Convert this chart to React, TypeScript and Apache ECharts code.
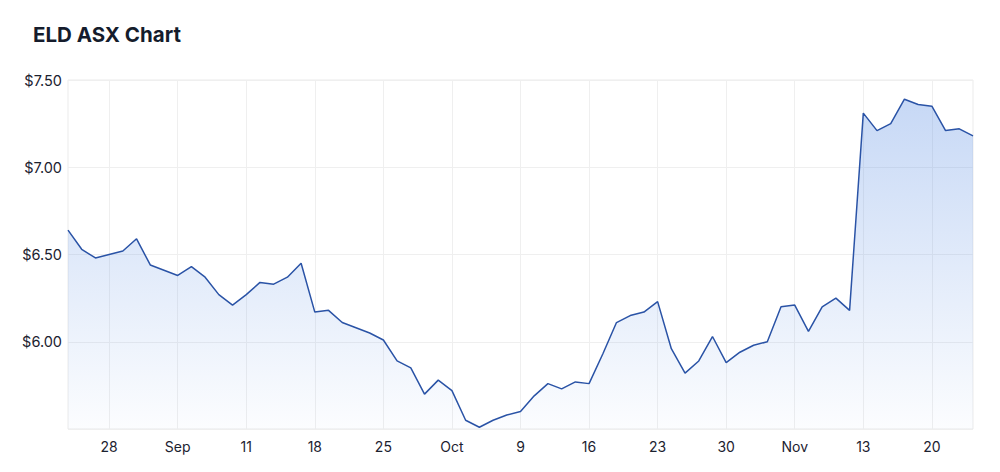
import React, { useEffect, useRef } from "react";
import * as echarts from "echarts";

// trading days, Aug 23 - Nov 23 2023
const dates = [
  "2023-08-23", "2023-08-24", "2023-08-25",
  "2023-08-28", "2023-08-29", "2023-08-30", "2023-08-31", "2023-09-01",
  "2023-09-04", "2023-09-05", "2023-09-06", "2023-09-07", "2023-09-08",
  "2023-09-11", "2023-09-12", "2023-09-13", "2023-09-14", "2023-09-15",
  "2023-09-18", "2023-09-19", "2023-09-20", "2023-09-21", "2023-09-22",
  "2023-09-25", "2023-09-26", "2023-09-27", "2023-09-28", "2023-09-29",
  "2023-10-02", "2023-10-03", "2023-10-04", "2023-10-05", "2023-10-06",
  "2023-10-09", "2023-10-10", "2023-10-11", "2023-10-12", "2023-10-13",
  "2023-10-16", "2023-10-17", "2023-10-18", "2023-10-19", "2023-10-20",
  "2023-10-23", "2023-10-24", "2023-10-25", "2023-10-26", "2023-10-27",
  "2023-10-30", "2023-10-31", "2023-11-01", "2023-11-02", "2023-11-03",
  "2023-11-06", "2023-11-07", "2023-11-08", "2023-11-09", "2023-11-10",
  "2023-11-13", "2023-11-14", "2023-11-15", "2023-11-16", "2023-11-17",
  "2023-11-20", "2023-11-21", "2023-11-22", "2023-11-23",
];

const prices = [
  6.64, 6.53, 6.48,
  6.5, 6.52, 6.59, 6.44, 6.41,
  6.38, 6.43, 6.37, 6.27, 6.21,
  6.27, 6.34, 6.33, 6.37, 6.45,
  6.17, 6.18, 6.11, 6.08, 6.05,
  6.01, 5.89, 5.85, 5.7, 5.78,
  5.72, 5.55, 5.51, 5.55, 5.58,
  5.6, 5.69, 5.76, 5.73, 5.77,
  5.76, 5.93, 6.11, 6.15, 6.17,
  6.23, 5.96, 5.82, 5.89, 6.03,
  5.88, 5.94, 5.98, 6.0, 6.2,
  6.21, 6.06, 6.2, 6.25, 6.18,
  7.31, 7.21, 7.25, 7.39, 7.36,
  7.35, 7.21, 7.22, 7.18,
];

const monthNames = ["Jan", "Feb", "Mar", "Apr", "May", "Jun", "Jul", "Aug", "Sep", "Oct", "Nov", "Dec"];

const toDate = (s: string) => new Date(s + "T00:00:00");
const isMonday = (s: string) => toDate(s).getDay() === 1;

const App = () => {
  const chartRef = useRef(null);

  useEffect(() => {
    const chart = echarts.init(chartRef.current, null, { renderer: "svg" });
    const font = "Inter, 'Noto Sans', sans-serif";

    const option = {
      animation: false,
      title: {
        text: "ELD ASX Chart",
        left: 28,
        top: 19,
        textStyle: {
          fontFamily: font,
          fontSize: 20.5,
          fontWeight: "bold",
          color: "#151c2c",
        },
      },
      grid: {
        left: 68,
        right: 27,
        top: 80,
        bottom: 43,
        show: true,
        borderColor: "#ebebeb",
        borderWidth: 1,
      },
      xAxis: {
        type: "category",
        data: dates,
        boundaryGap: false,
        axisLine: { show: false },
        axisTick: { show: false },
        axisLabel: {
          interval: (_i: number, v: string) => isMonday(v),
          formatter: (v: string) => {
            const d = toDate(v);
            return d.getDate() <= 7 ? monthNames[d.getMonth()] : String(d.getDate());
          },
          margin: 10,
          fontFamily: font,
          fontSize: 14,
          color: "#1c2230",
        },
        splitLine: {
          show: true,
          interval: (_i: number, v: string) => isMonday(v),
          lineStyle: { color: "#efefef", width: 1 },
        },
      },
      yAxis: {
        type: "value",
        min: 5.5,
        max: 7.5,
        interval: 0.5,
        axisLine: { show: false },
        axisTick: { show: false },
        axisLabel: {
          formatter: (v: number) => (v === 5.5 ? "" : "$" + v.toFixed(2)),
          margin: 6,
          fontFamily: font,
          fontSize: 14.5,
          color: "#1c2230",
        },
        splitLine: { lineStyle: { color: "#efefef", width: 1 } },
      },
      series: [
        {
          type: "line",
          data: prices,
          showSymbol: false,
          lineStyle: { color: "#2a53a6", width: 1.5 },
          areaStyle: {
            color: new echarts.graphic.LinearGradient(0, 0, 0, 1, [
              { offset: 0, color: "rgba(95,145,228,0.5)" },
              { offset: 1, color: "rgba(95,145,228,0.03)" },
            ]),
          },
        },
      ],
    };

    chart.setOption(option);
    return () => {
      chart.dispose();
    };
  }, []);

  return (
    <div
      ref={chartRef}
      style={{ position: "fixed", left: 0, top: 0, width: 1000, height: 472, background: "#fff" }}
    ></div>
  );
};

export default App;
